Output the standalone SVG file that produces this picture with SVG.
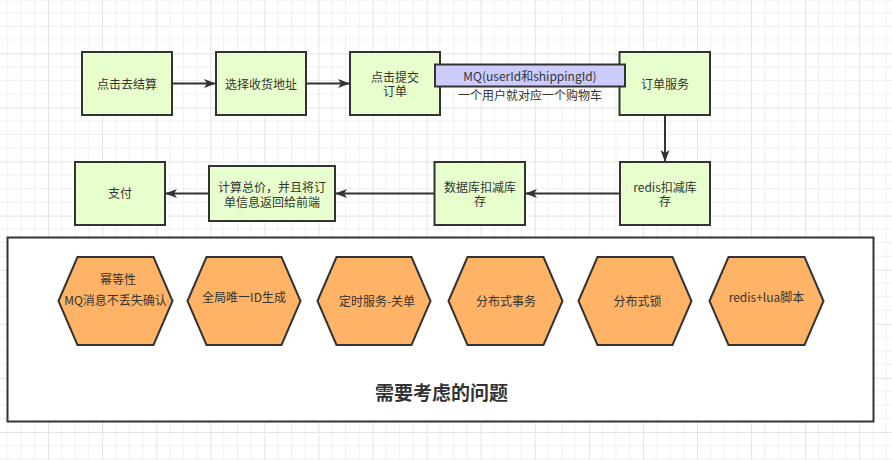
<svg xmlns="http://www.w3.org/2000/svg" width="892" height="460" viewBox="0 0 892 460">
<defs>
<pattern id="grid" patternUnits="userSpaceOnUse" x="-6" y="-0.7" width="54.08" height="54.08">
<path d="M13.52 0V54.08M27.04 0V54.08M40.56 0V54.08M0 13.52H54.08M0 27.04H54.08M0 40.56H54.08" stroke="#f0f0f0" stroke-width="1" fill="none"/>
<path d="M0.5 0V54.08M0 0.5H54.08" stroke="#e3e3e3" stroke-width="1" fill="none"/>
</pattern>
<marker id="arr" viewBox="0 0 12 9" refX="12" refY="4.5" markerWidth="12" markerHeight="9" markerUnits="userSpaceOnUse" orient="auto">
<path d="M0 0L12 4.5L0 9L3 4.5Z" fill="#333"/>
</marker>
</defs>
<style>
.box{fill:#e6ffcc;stroke:#333;stroke-width:2}
.hex{fill:#ffb366;stroke:#333;stroke-width:2}
.t{font-family:"Noto Sans CJK SC","Liberation Sans",sans-serif;font-size:12px;fill:#333;text-anchor:middle}
.c{fill:none;stroke:#333;stroke-width:2;marker-end:url(#arr)}
</style>
<rect width="892" height="460" fill="#fff"/>
<rect width="892" height="460" fill="url(#grid)"/>

<g id="container">
<rect x="7.5" y="237.5" width="866" height="184" fill="#fff" stroke="#333" stroke-width="2"/>
<text x="441.5" y="400" class="t" style="font-size:19px;font-weight:bold">需要考虑的问题</text>
</g>

<g id="connectors">
<line class="c" x1="172" y1="83.5" x2="216" y2="83.5"/>
<line class="c" x1="306" y1="83.5" x2="350" y2="83.5"/>
<line class="c" x1="665" y1="115" x2="665" y2="162"/>
<line class="c" x1="620" y1="193.5" x2="525" y2="193.5"/>
<line class="c" x1="434" y1="193.5" x2="335" y2="193.5"/>
<line class="c" x1="209" y1="193.5" x2="165" y2="193.5"/>
</g>

<g id="n1"><rect class="box" x="82" y="52" width="90" height="63"/><text class="t" x="127" y="88.5">点击去结算</text></g>
<g id="n2"><rect class="box" x="216" y="52" width="90" height="63"/><text class="t" x="261" y="88.5">选择收货地址</text></g>
<g id="n3"><rect class="box" x="350" y="52" width="90" height="63"/><text class="t" x="395" y="82">点击提交<tspan x="395" dy="14">订单</tspan></text></g>
<g id="n4"><rect class="box" x="619.5" y="52" width="90.5" height="63"/><text class="t" x="665" y="88.5">订单服务</text></g>
<g id="mq"><rect x="435" y="64.5" width="190" height="22" fill="#ccccff" stroke="#333" stroke-width="2"/><text class="t" x="530" y="80.5">MQ(userId和shippingId)</text><text class="t" x="530" y="99.5">一个用户就对应一个购物车</text></g>
<g id="n5"><rect class="box" x="620" y="162" width="90" height="63"/><text class="t" x="665" y="192">redis扣减库<tspan x="665" dy="14">存</tspan></text></g>
<g id="n6"><rect class="box" x="434.5" y="162" width="90.5" height="63"/><text class="t" x="480" y="192">数据库扣减库<tspan x="480" dy="14">存</tspan></text></g>
<g id="n7"><rect class="box" x="209" y="166" width="126" height="55"/><text class="t" x="272" y="192">计算总价，并且将订<tspan x="272" dy="14.5">单信息返回给前端</tspan></text></g>
<g id="n8"><rect class="box" x="75" y="162" width="90" height="63"/><text class="t" x="120" y="198">支付</text></g>

<g id="h1"><polygon class="hex" points="58.5,301 77.5,257 153.5,257 172.5,301 153.5,345 77.5,345"/><text class="t" x="118" y="283.5">幂等性<tspan x="115.5" dy="21.5">MQ消息不丢失确认</tspan></text></g>
<g id="h2"><polygon class="hex" points="187.5,301 206.5,257 281.5,257 300.5,301 281.5,345 206.5,345"/><text class="t" x="244" y="302">全局唯一ID生成</text></g>
<g id="h3"><polygon class="hex" points="317.5,301 336.5,257 411.5,257 430.5,301 411.5,345 336.5,345"/><text class="t" x="377" y="306">定时服务-关单</text></g>
<g id="h4"><polygon class="hex" points="448.5,301 467.5,257 543.5,257 562.5,301 543.5,345 467.5,345"/><text class="t" x="506" y="306">分布式事务</text></g>
<g id="h5"><polygon class="hex" points="578.5,301 597.5,257 672.5,257 691.5,301 672.5,345 597.5,345"/><text class="t" x="637.5" y="306">分布式锁</text></g>
<g id="h6"><polygon class="hex" points="709.5,301 728.5,257 804.5,257 823.5,301 804.5,345 728.5,345"/><text class="t" x="766.5" y="302">redis+lua脚本</text></g>
</svg>
